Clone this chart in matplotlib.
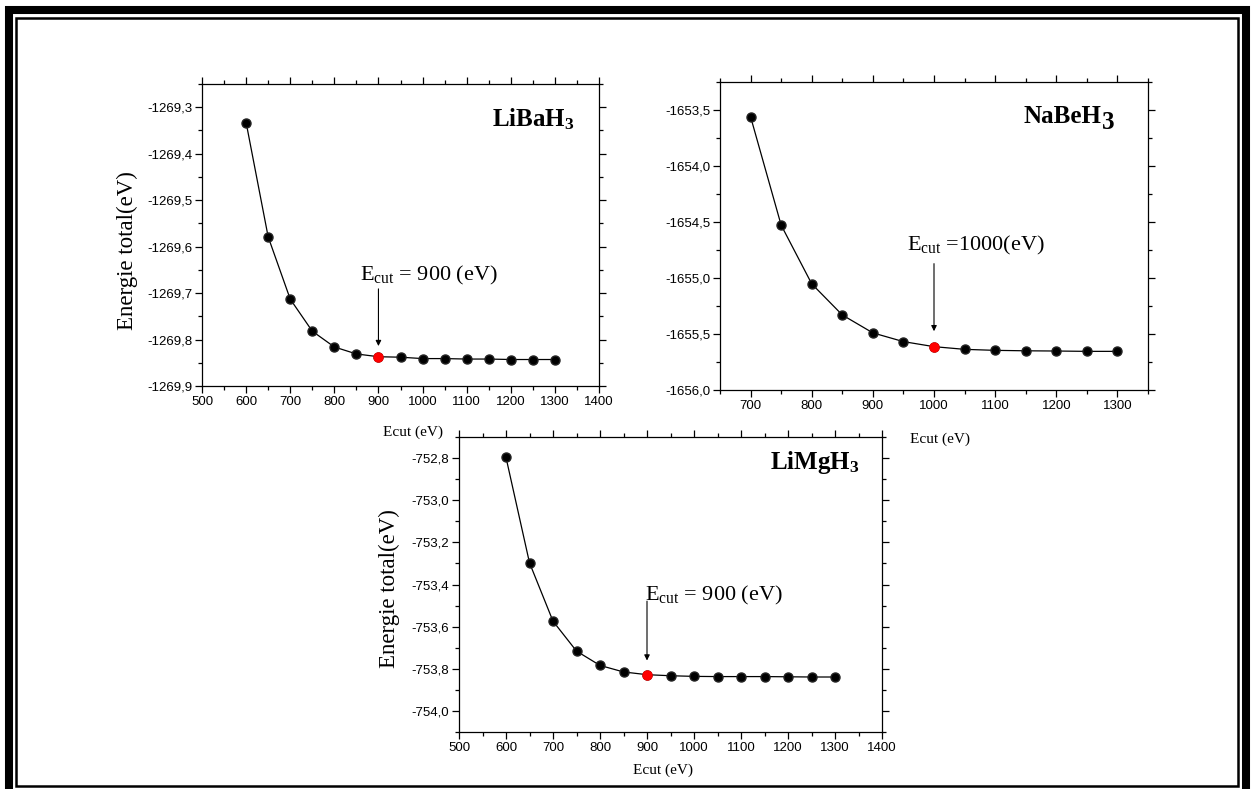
# encoding utf-8
import numpy as np
import matplotlib
matplotlib.use('Agg')
from matplotlib import pyplot as plt
from matplotlib.ticker import MultipleLocator, FuncFormatter
from matplotlib.patches import Rectangle

plt.rcParams['font.family'] = ['Liberation Sans', 'DejaVu Sans']
plt.rcParams['mathtext.fontset'] = 'custom'
plt.rcParams['mathtext.rm'] = 'Liberation Serif'
plt.rcParams['mathtext.bf'] = 'Liberation Serif:bold'
plt.rcParams['mathtext.it'] = 'Liberation Serif:italic'

# data
ecut_libah3 = [600, 650, 700, 750, 800, 850, 900, 950, 1000, 1050, 1100, 1150, 1200, 1250, 1300]
e_libah3 = [-1269.333, -1269.579, -1269.713, -1269.782, -1269.816, -1269.831, -1269.837,
            -1269.838, -1269.841, -1269.841, -1269.842, -1269.842, -1269.843, -1269.843, -1269.843]
cut_libah3 = 900

ecut_nabeh3 = [700, 750, 800, 850, 900, 950, 1000, 1050, 1100, 1150, 1200, 1250, 1300]
e_nabeh3 = [-1653.56, -1654.528, -1655.052, -1655.33, -1655.49, -1655.568, -1655.613,
            -1655.637, -1655.646, -1655.65, -1655.652, -1655.655, -1655.655]
cut_nabeh3 = 1000

ecut_limgh3 = [600, 650, 700, 750, 800, 850, 900, 950, 1000, 1050, 1100, 1150, 1200, 1250, 1300]
e_limgh3 = [-752.797, -753.297, -753.574, -753.716, -753.784, -753.815, -753.828,
            -753.833, -753.836, -753.837, -753.837, -753.837, -753.838, -753.839, -753.839]
cut_limgh3 = 900

W, H = 1256, 789
fig = plt.figure(figsize=(W / 100, H / 100), dpi=100)


def px_axes(l, t, r, b):
    return fig.add_axes([l / W, (H - b) / H, (r - l) / W, (b - t) / H])


def comma(v, pos):
    return ('%.1f' % v).replace('.', ',')


def style(ax, xmaj, ymaj):
    ax.xaxis.set_major_locator(MultipleLocator(xmaj))
    ax.xaxis.set_minor_locator(MultipleLocator(xmaj / 2))
    ax.yaxis.set_major_locator(MultipleLocator(ymaj))
    ax.yaxis.set_minor_locator(MultipleLocator(ymaj / 2))
    ax.yaxis.set_major_formatter(FuncFormatter(comma))
    ax.tick_params(which='both', direction='out', top=True, right=True,
                   labelsize=9.5, width=0.9)
    ax.tick_params(which='major', length=5, pad=2)
    ax.tick_params(which='minor', length=3)
    for s in ax.spines.values():
        s.set_linewidth(0.9)


def draw(ax, x, y, cut):
    ax.plot(x, y, color='black', lw=0.9, marker='o', ms=6.5,
            mfc='black', mec='#222222', zorder=3)
    i = x.index(cut)
    ax.plot(x[i], y[i], 'o', ms=6.5, mfc='red', mec='red', zorder=4)


serif = {'family': 'Liberation Serif'}

# LiBaH3
ax1 = px_axes(202, 84, 599, 386)
draw(ax1, ecut_libah3, e_libah3, cut_libah3)
ax1.set_xlim(500, 1400)
ax1.set_ylim(-1269.9, -1269.25)
style(ax1, 100, 0.1)
ax1.set_ylabel('Energie total(eV)', fontdict=serif, fontsize=16.5)
ax1.yaxis.set_label_coords(-0.161, 0.45)
ax1.set_xlabel('Ecut (eV)', fontdict=serif, fontsize=11)
ax1.xaxis.set_label_coords(0.531, -0.132)
ax1.text(0.73, 0.861, r'$\mathbf{LiBaH_3}$', transform=ax1.transAxes, fontsize=18)
ax1.text(0.398, 0.351, r'E$_{\mathrm{cut}}$ = 900 (eV)', transform=ax1.transAxes,
         fontdict=serif, fontsize=16)
ax1.annotate('', xy=(cut_libah3, -1269.82), xytext=(cut_libah3, -1269.685),
             arrowprops=dict(arrowstyle='-|>', color='black', lw=0.8, mutation_scale=8))

# NaBeH3
ax2 = px_axes(720, 82, 1148, 390)
draw(ax2, ecut_nabeh3, e_nabeh3, cut_nabeh3)
ax2.set_xlim(650, 1350)
ax2.set_ylim(-1656.0, -1653.25)
style(ax2, 100, 0.5)
ax2.set_xlabel('Ecut (eV)', fontdict=serif, fontsize=11)
ax2.xaxis.set_label_coords(0.514, -0.137)
t2 = ax2.text(0.708, 0.867, 'NaBeH', transform=ax2.transAxes, fontsize=18,
              family='Liberation Serif', weight='bold')
ax2.annotate('3', xy=(1, 0), xycoords=t2, xytext=(0.5, -4), textcoords='offset points',
             fontsize=18, family='Liberation Serif', weight='bold', va='bottom')
ax2.text(0.437, 0.452, r'E$_{\mathrm{cut}}$ =1000(eV)', transform=ax2.transAxes,
         fontdict=serif, fontsize=16)
ax2.annotate('', xy=(cut_nabeh3, -1655.5), xytext=(cut_nabeh3, -1654.847),
             arrowprops=dict(arrowstyle='-|>', color='black', lw=0.8, mutation_scale=8))

# LiMgH3
ax3 = px_axes(459, 437, 882, 732)
draw(ax3, ecut_limgh3, e_limgh3, cut_limgh3)
ax3.set_xlim(500, 1400)
ax3.set_ylim(-754.1, -752.7)
style(ax3, 100, 0.2)
ax3.set_ylabel('Energie total(eV)', fontdict=serif, fontsize=16.5)
ax3.yaxis.set_label_coords(-0.14, 0.485)
ax3.set_xlabel('Ecut (eV)', fontdict=serif, fontsize=11)
ax3.xaxis.set_label_coords(0.482, -0.108)
ax3.text(0.735, 0.892, r'$\mathbf{LiMgH_3}$', transform=ax3.transAxes, fontsize=18)
ax3.text(0.44, 0.445, r'E$_{\mathrm{cut}}$ = 900 (eV)', transform=ax3.transAxes,
         fontdict=serif, fontsize=16)
ax3.annotate('', xy=(cut_limgh3, -753.774), xytext=(cut_limgh3, -753.466),
             arrowprops=dict(arrowstyle='-|>', color='black', lw=0.8, mutation_scale=8))

# page border
fig.add_artist(Rectangle((8.5 / W, (H - 793) / H), (1246 - 8.5) / W, (793 - 10) / H,
                         transform=fig.transFigure, fill=False, lw=5.8, ec='black'))
fig.add_artist(Rectangle((16 / W, (H - 786) / H), (1238 - 16) / W, (786 - 17.5) / H,
                         transform=fig.transFigure, fill=False, lw=1.8, ec='black'))

fig.savefig('out.png', dpi=100)
